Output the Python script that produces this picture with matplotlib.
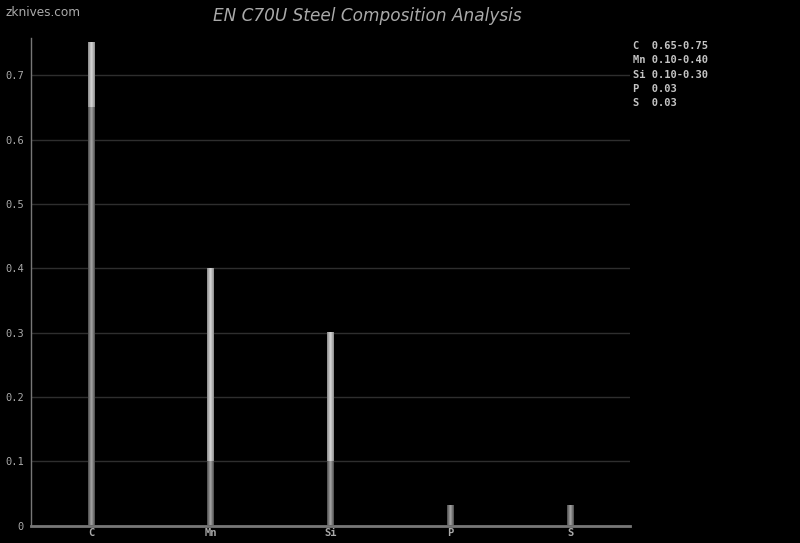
import numpy as np
import matplotlib
matplotlib.use("Agg")
import matplotlib.pyplot as plt
from matplotlib.colors import LinearSegmentedColormap

elements = ["C", "Mn", "Si", "P", "S"]
min_vals = [0.65, 0.10, 0.10, 0.03, 0.03]
max_vals = [0.75, 0.40, 0.30, 0.03, 0.03]
legend_lines = ["C  0.65-0.75", "Mn 0.10-0.40", "Si 0.10-0.30", "P  0.03", "S  0.03"]
title = "EN C70U Steel Composition Analysis"
yticks = [0, 0.1, 0.2, 0.3, 0.4, 0.5, 0.6, 0.7]
yticklabels = ["0", "0.1", "0.2", "0.3", "0.4", "0.5", "0.6", "0.7"]

fig = plt.figure(figsize=(8, 5.43), dpi=100, facecolor="black")
ax = fig.add_axes([31/800, 17.5/543, 599/800, 487.5/543], facecolor="black")

low_cmap = LinearSegmentedColormap.from_list("low", ["#4a4a4a", "#a8a8a8", "#4a4a4a"])
high_cmap = LinearSegmentedColormap.from_list("high", ["#8a8a8a", "#d8d8d8", "#8a8a8a"])
grad = np.linspace(0, 1, 64).reshape(1, -1)
w = 0.055
for i, (lo, hi) in enumerate(zip(min_vals, max_vals)):
    ax.imshow(grad, cmap=low_cmap, extent=[i - w/2, i + w/2, 0, lo],
              aspect="auto", zorder=3, interpolation="bilinear")
    if hi > lo:
        ax.imshow(grad, cmap=high_cmap, extent=[i - w/2, i + w/2, lo, hi],
                  aspect="auto", zorder=3, interpolation="bilinear")
ax.set_xlim(-0.5, 4.5)
ax.set_ylim(0, 0.758)

ax.set_yticks(yticks)
ax.set_yticklabels(yticklabels)
ax.set_xticks(range(len(elements)))
ax.set_xticklabels(elements)
ax.grid(axis="y", color="#2e2e2e", linewidth=1)
ax.set_axisbelow(True)
ax.tick_params(length=0, colors="#aaaaaa", labelsize=7.5)
ax.tick_params(axis="y", pad=5)
ax.tick_params(axis="x", pad=2)
for lab in ax.get_yticklabels():
    lab.set_family("DejaVu Sans Mono")
for lab in ax.get_xticklabels():
    lab.set_family("DejaVu Sans Mono")
    lab.set_fontweight("bold")
for s in ["top", "right"]:
    ax.spines[s].set_visible(False)
ax.spines["left"].set_color("#777777")
ax.spines["left"].set_linewidth(1)
ax.spines["bottom"].set_color("#777777")
ax.spines["bottom"].set_linewidth(2)

fig.text(367/800, 1 - 16/543, title, color="#aaaaaa", fontsize=12.2, style="italic",
         ha="center", va="center", family="DejaVu Sans")
fig.text(5/800, 1 - 13/543, "zknives.com", color="#aaaaaa", fontsize=8.7,
         ha="left", va="center", family="DejaVu Sans")
for k, line in enumerate(legend_lines):
    fig.text(633/800, 1 - (46 + 14.3*k)/543, line, color="#c4c4c4", fontsize=7.5,
             ha="left", va="center", family="DejaVu Sans Mono", fontweight="bold")

fig.savefig("out.png", dpi=100, facecolor="black")
